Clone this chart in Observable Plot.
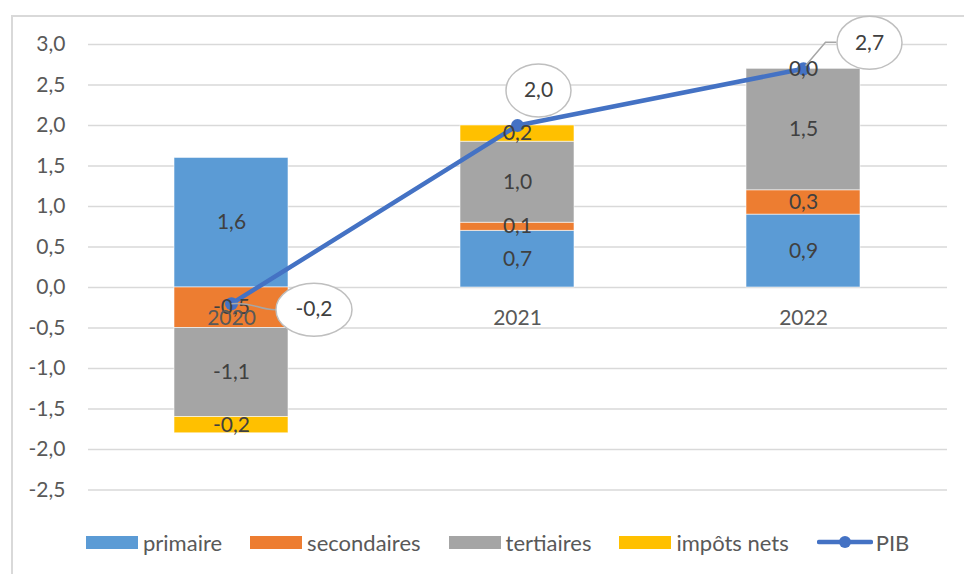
<!DOCTYPE html>
<html><head><meta charset="utf-8">
<script src="https://cdn.jsdelivr.net/npm/d3@7"></script>
<script src="https://cdn.jsdelivr.net/npm/@observablehq/plot@0.6"></script>
<style>
body{margin:0;background:#fff;font-family:Lato,sans-serif;}
#wrap{position:relative;width:964px;height:574px;overflow:hidden;}
#frame{position:absolute;left:11px;top:15px;width:1000px;height:600px;border-left:2px solid #d9d9d9;border-top:2px solid #d9d9d9;}
#chart{position:absolute;left:0;top:0;}
#legend{position:absolute;left:86px;top:529px;height:26px;display:flex;align-items:center;font-size:22px;color:#595959;white-space:nowrap;}
.item{display:flex;align-items:center;margin-right:28px;}
.sw{width:52px;height:13px;margin-right:5px;}
.lsw{margin-right:3px;}
</style></head><body>
<div id="wrap"><div id="frame"></div><div id="chart"></div><div id="legend"></div></div>
<script>
// ---- data ----
const years = ["2020", "2021", "2022"];
const series = ["primaire", "secondaires", "tertiaires", "impôts nets"];
const primaire = [1.6, 0.7, 0.9];
const secondaires = [-0.5, 0.1, 0.3];
const tertiaires = [-1.1, 1.0, 1.5];
const impots = [-0.2, 0.2, 0.0];
const pib = [-0.2, 2.0, 2.7];
const pibName = "PIB";
const yTicks = [-2.5, -2.0, -1.5, -1.0, -0.5, 0.0, 0.5, 1.0, 1.5, 2.0, 2.5, 3.0];

// ---- styles ----
const colors = ["#5B9BD5", "#ED7D31", "#A5A5A5", "#FFC000"];
const pibColor = "#4472C4";
const font = "Lato, sans-serif";
const fs = 21;
// callout label offsets (pixels) relative to each PIB point
const calloutDx = [82.5, 21, 66];
const calloutDy = [6, -35, -26];

const loc = d3.formatLocale({decimal: ",", thousands: " ", grouping: [3], currency: ["", "€"], minus: "-"});
const fmt = loc.format(".1f");

const seriesValues = [primaire, secondaires, tertiaires, impots];
const rows = [];
series.forEach((s, si) => years.forEach((y, yi) => rows.push({series: s, year: y, value: seriesValues[si][yi]})));
const pibRows = years.map((y, i) => ({year: y, value: pib[i]}));

function ellipse(rx, ry) {
  const k = 0.5523;
  return {draw(c) {
    c.moveTo(rx, 0);
    c.bezierCurveTo(rx, ry * k, rx * k, ry, 0, ry);
    c.bezierCurveTo(-rx * k, ry, -rx, ry * k, -rx, 0);
    c.bezierCurveTo(-rx, -ry * k, -rx * k, -ry, 0, -ry);
    c.bezierCurveTo(rx * k, -ry, rx, -ry * k, rx, 0);
    c.closePath();
  }};
}
// leader shapes from the point to the callout edge
const leaderShapes = [
  {draw(c) { c.moveTo(0, 0); c.bezierCurveTo(22, -2, 26, 6, 44, 6); }},
  null,
  {draw(c) { c.moveTo(2, -3); c.lineTo(22, -26.5); c.lineTo(33, -26.5); }}
];

const calloutMarks = [];
years.forEach((y, i) => {
  const d = [pibRows[i]];
  const label = fmt(pib[i]);
  const rx = 16 + 5.5 * label.length;
  if (leaderShapes[i]) calloutMarks.push(Plot.dot(d, {x: "year", y: "value", symbol: leaderShapes[i], fill: "none", stroke: "#a6a6a6", strokeWidth: 1.5}));
  calloutMarks.push(Plot.dot(d, {x: "year", y: "value", dx: calloutDx[i], dy: calloutDy[i], symbol: ellipse(rx, 26.5), fill: "white", stroke: "#bfbfbf", strokeWidth: 1.5}));
  calloutMarks.push(Plot.text(d, {x: "year", y: "value", dx: calloutDx[i], dy: calloutDy[i], text: dd => fmt(dd.value), fill: "#404040", fontSize: fs}));
});

const chart = Plot.plot({
  width: 964,
  height: 520,
  marginLeft: 88,
  marginRight: 17,
  marginTop: 44,
  marginBottom: 30.5,
  style: {fontFamily: font, fontSize: fs + "px", color: "#595959", background: "transparent", overflow: "visible"},
  x: {type: "band", domain: years, paddingInner: 0.6, paddingOuter: 0.3, axis: null},
  y: {domain: [-2.5, 3.0], ticks: yTicks, tickFormat: fmt, tickSize: 0, tickPadding: 23, label: null},
  color: {domain: series, range: colors},
  marks: [
    Plot.ruleY(yTicks, {stroke: "#d9d9d9", strokeWidth: 1.3}),
    Plot.barY(rows, Plot.stackY({x: "year", y: "value", fill: "series", stroke: "white", strokeWidth: 0.8, strokeOpacity: 0.7})),
    Plot.line(pibRows, {x: "year", y: "value", stroke: pibColor, strokeWidth: 4.5}),
    Plot.dot(pibRows, {x: "year", y: "value", r: 6.5, fill: pibColor}),
    Plot.text(rows, Plot.stackY({x: "year", y: "value", z: "series", text: d => fmt(d.value), fill: "#404040", fontSize: fs})),
    Plot.text(years, {x: d => d, y: () => 0, dy: 31, text: d => d, fill: "#595959", fontSize: fs}),
    ...calloutMarks
  ]
});
document.getElementById("chart").appendChild(chart);

// legend
const legend = document.getElementById("legend");
series.forEach((s, i) => {
  const it = document.createElement("div");
  it.className = "item";
  it.innerHTML = `<div class="sw" style="background:${colors[i]}"></div><span>${s}</span>`;
  legend.appendChild(it);
});
const pit = document.createElement("div");
pit.className = "item";
pit.innerHTML = `<svg class="lsw" width="56" height="16"><line x1="2" y1="8" x2="54" y2="8" stroke="${pibColor}" stroke-width="4.5" stroke-linecap="round"/><circle cx="28" cy="8" r="6" fill="${pibColor}"/></svg><span>${pibName}</span>`;
legend.appendChild(pit);
</script>
</body></html>
